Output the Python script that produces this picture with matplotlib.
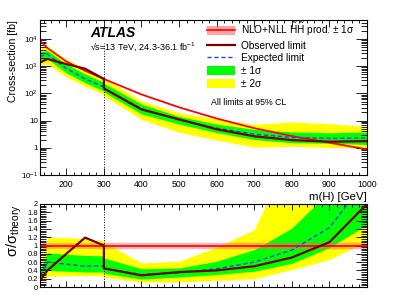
import numpy as np
import matplotlib
matplotlib.use('Agg')
import matplotlib.pyplot as plt
from matplotlib.patches import Patch
from matplotlib.lines import Line2D
from matplotlib.ticker import MultipleLocator, LogLocator, FuncFormatter, NullFormatter

plt.rcParams['font.family'] = ['Liberation Sans', 'DejaVu Sans']
plt.rcParams['mathtext.fontset'] = 'custom'
plt.rcParams['mathtext.rm'] = 'Liberation Sans'
plt.rcParams['mathtext.it'] = 'Liberation Sans:italic'
plt.rcParams['mathtext.bf'] = 'Liberation Sans:bold'

# mass points, 300 GeV appears twice (low-mass / high-mass analyses)
mass = [130, 150, 200, 250, 300, 300, 400, 500, 600, 700, 800, 900, 1000]
xsec_theory = [8500, 4600, 1500, 680, 340, 340, 92, 31, 12, 5.3, 2.7, 1.55, 0.88]  # fb
theory_unc = [0.07, 0.07, 0.07, 0.07, 0.075, 0.075, 0.075, 0.075, 0.075, 0.08, 0.08, 0.08, 0.08]

# limits as sigma / sigma_theory
obs_ratio = [0.16, 0.40, 0.80, 1.19, 1.00, 0.45, 0.28, 0.36, 0.40, 0.50, 0.71, 1.08, 2.0]
exp_ratio = [0.27, 0.60, 0.55, 0.50, 0.51, 0.45, 0.30, 0.34, 0.44, 0.60, 0.89, 1.43, 2.6]
one_sig_lo = [0.18, 0.40, 0.38, 0.36, 0.36, 0.33, 0.19, 0.24, 0.30, 0.38, 0.57, 0.95, 1.5]
one_sig_hi = [0.41, 0.82, 0.79, 0.76, 0.75, 0.70, 0.44, 0.46, 0.62, 0.90, 1.42, 2.3, 4.3]
two_sig_lo = [0.13, 0.26, 0.27, 0.27, 0.27, 0.24, 0.12, 0.12, 0.16, 0.20, 0.42, 0.66, 1.1]
two_sig_hi = [0.53, 1.20, 1.19, 1.17, 1.11, 1.08, 0.58, 0.62, 0.96, 1.38, 3.3, 5.0, 7.0]

m = np.array(mass, dtype=float)
theo = np.array(xsec_theory)
unc = np.array(theory_unc)
obs = np.array(obs_ratio)
exp_ = np.array(exp_ratio)
g_lo, g_hi = np.array(one_sig_lo), np.array(one_sig_hi)
y_lo, y_hi = np.array(two_sig_lo), np.array(two_sig_hi)

YELLOW = '#ffff00'
GREEN = '#00ff00'
PINK = '#ff6666'
RED = '#ff0000'
OBS = '#7a0000'
EXP = '#2040ff'

fig = plt.figure(figsize=(4.07, 2.97), dpi=100)
ax1 = fig.add_axes([40/407, 122/297, 327/407, 155/297])
ax2 = fig.add_axes([40/407, 10/297, 327/407, 83/297])

# top panel: cross-section
ax1.fill_between(m, y_lo*theo, y_hi*theo, color=YELLOW, lw=0)
ax1.fill_between(m, g_lo*theo, g_hi*theo, color=GREEN, lw=0)
ax1.fill_between(m, theo*(1-unc), theo*(1+unc), color=PINK, alpha=0.5, lw=0)
ax1.plot(m, theo, color=RED, lw=1.2)
ax1.plot(m, exp_*theo, color=EXP, lw=1.0, ls=(0, (3, 2)))
ax1.plot(m, obs*theo, color=OBS, lw=1.6)
ax1.plot([300, 300], [0.1, 7000], color='k', ls=':', lw=0.7)

ax1.set_xlim(130, 1000)
ax1.set_yscale('log')
ax1.set_ylim(0.1, 5e4)
ax1.xaxis.set_major_locator(MultipleLocator(100))
ax1.xaxis.set_minor_locator(MultipleLocator(20))
ax1.yaxis.set_major_locator(LogLocator(base=10, numticks=10))
ax1.yaxis.set_minor_locator(LogLocator(base=10, subs=np.arange(2, 10), numticks=20))
ax1.yaxis.set_minor_formatter(NullFormatter())


def log_fmt(v, pos):
    e = int(round(np.log10(v)))
    if e == 0:
        return '1'
    if e == 1:
        return '10'
    return '$10^{%d}$' % e


ax1.yaxis.set_major_formatter(FuncFormatter(log_fmt))
ax1.tick_params(which='both', direction='in', top=True, right=True, labelsize=6.3, width=0.6)
ax1.tick_params(axis='x', which='major', length=5)
ax1.tick_params(axis='x', which='minor', length=2.5)
ax1.tick_params(axis='y', which='major', length=8, labelsize=5.8, pad=1.5)
ax1.tick_params(axis='y', which='minor', length=4)
ax1.set_ylabel('Cross-section [fb]', fontsize=7.6, loc='top')
ax1.yaxis.set_label_coords(-0.068, 1.0)
ax1.set_xlabel('m(H) [GeV]', fontsize=8.2, loc='right', labelpad=2)

ax1.text(0.153, 0.89, 'ATLAS', transform=ax1.transAxes, fontsize=10,
         fontweight='bold', fontstyle='italic', va='baseline')
ax1.text(0.153, 0.806, '√s=13 TeV, 24.3-36.1 fb$^{-1}$', transform=ax1.transAxes,
         fontsize=6.5, va='baseline')

handles = [(Patch(facecolor=PINK, alpha=0.6, lw=0), Line2D([], [], color=RED, lw=1.2)),
           Line2D([], [], color=OBS, lw=1.6),
           Line2D([], [], color=EXP, lw=1.0, ls=(0, (3, 2))),
           Patch(facecolor=GREEN, lw=0),
           Patch(facecolor=YELLOW, lw=0)]
labels = [r'NLO+NLL $\tilde{\mathrm{H}}\tilde{\mathrm{H}}$ prod. ± 1σ', 'Observed limit',
          'Expected limit', '± 1σ', '± 2σ']
ax1.legend(handles, labels, loc='upper left', bbox_to_anchor=(0.51, 0.995), frameon=False,
           fontsize=7.3, handlelength=2.8, handleheight=1.0, labelspacing=0.28,
           handletextpad=0.6, borderaxespad=0, borderpad=0)
ax1.text(0.523, 0.465, 'All limits at 95% CL', transform=ax1.transAxes,
         fontsize=6.3, va='center')

# bottom panel: ratio to theory
ax2.fill_between(m, y_lo, y_hi, color=YELLOW, lw=0)
ax2.fill_between(m, g_lo, g_hi, color=GREEN, lw=0)
ax2.fill_between(m, 1-unc, 1+unc, color=PINK, alpha=0.5, lw=0)
ax2.axhline(1, color=RED, lw=1.2)
ax2.plot(m, exp_, color=EXP, lw=1.0, ls=(0, (3, 2)))
ax2.plot(m, obs, color=OBS, lw=1.6)
ax2.axvline(300, color='k', ls=':', lw=0.7)

ax2.set_xlim(130, 1000)
ax2.set_ylim(0, 2)
ax2.xaxis.set_major_locator(MultipleLocator(100))
ax2.xaxis.set_minor_locator(MultipleLocator(20))
ax2.yaxis.set_major_locator(MultipleLocator(0.2))
ax2.yaxis.set_minor_locator(MultipleLocator(0.04))
ax2.yaxis.set_major_formatter(FuncFormatter(lambda v, p: '%g' % round(v, 1)))
ax2.tick_params(which='both', direction='in', top=True, right=True, labelsize=5.4,
                width=0.6, labelbottom=False, pad=1.5)
ax2.tick_params(axis='x', which='major', length=4)
ax2.tick_params(axis='x', which='minor', length=2)
ax2.tick_params(axis='y', which='major', length=8)
ax2.tick_params(axis='y', which='minor', length=4)
ax2.set_ylabel('σ/σ$_{\\mathrm{theory}}$', fontsize=10.5, loc='top')
ax2.yaxis.set_label_coords(-0.05, 1.0)

for ax in (ax1, ax2):
    for s in ax.spines.values():
        s.set_linewidth(0.8)

fig.savefig('out.png', dpi=100)
